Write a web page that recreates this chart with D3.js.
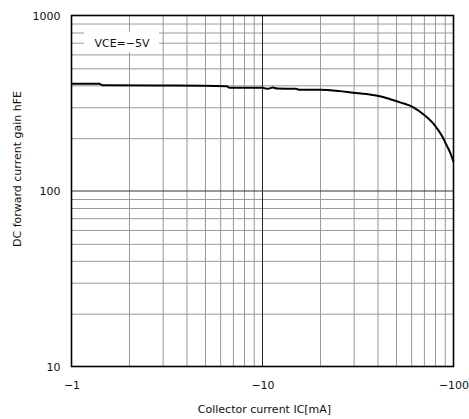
<!DOCTYPE html>
<html>
<head>
<meta charset="utf-8">
<script src="https://cdn.jsdelivr.net/npm/d3@7"></script>
<style>
  body { margin: 0; background: #fff; }
  svg text { font-family: "DejaVu Sans", sans-serif; fill: #111; }
</style>
</head>
<body>
<div class="canvas"></div>
<script>
// collector current IC [mA] (negative, PNP) and DC current gain hFE
const ic = [-1, -1.4, -1.45, -3.5, -6.5, -6.7, -10, -10.67, -11.3, -11.9, -15, -15.5, -20, -25, -30, -35, -40, -45, -52.5, -61.6, -70.9, -80, -86.8, -92.1, -95.9, -100];
const hfe = [408, 408, 400, 399, 395, 388, 387, 382, 389, 384, 382, 378, 377, 371, 363, 357, 349, 338, 320, 300, 269, 236, 207, 182, 166, 147];

const xMajor = [-1, -10, -100];
const yMajor = [10, 100, 1000];
const mults = [2, 3, 4, 5, 6, 7, 8, 9];
const xMinor = [-1, -10].flatMap(d => mults.map(m => d * m));
const yMinor = [10, 100].flatMap(d => mults.map(m => d * m));
const label = "VCE=\u22125V";

const W = 469, H = 419;
const margin = { top: 15.5, right: 15.5, bottom: 52.5, left: 71.5 };
const w = W - margin.left - margin.right;
const h = H - margin.top - margin.bottom;

const svg = d3.select(".canvas")
  .append("svg")
  .attr("width", W)
  .attr("height", H);

const g = svg.append("g")
  .attr("transform", `translate(${margin.left}, ${margin.top})`);

const x = d3.scaleLog().domain([-1, -100]).range([0, w]);
const y = d3.scaleLog().domain([10, 1000]).range([h, 0]);

// minor grid
g.append("g")
  .attr("transform", `translate(0, ${h})`)
  .call(d3.axisBottom(x).tickValues(xMinor).tickSize(-h).tickFormat(""))
  .call(a => a.select(".domain").remove())
  .selectAll("line").attr("stroke", "#999");

g.append("g")
  .call(d3.axisLeft(y).tickValues(yMinor).tickSize(-w).tickFormat(""))
  .call(a => a.select(".domain").remove())
  .selectAll("line").attr("stroke", "#999");

// inner major lines
g.append("line")
  .attr("x1", x(-10)).attr("x2", x(-10))
  .attr("y1", 0).attr("y2", h)
  .attr("stroke", "#222");
g.append("line")
  .attr("x1", 0).attr("x2", w)
  .attr("y1", y(100)).attr("y2", y(100))
  .attr("stroke", "#333");

// label box
const lx = 12.5, ly = 16.5;
g.append("rect")
  .attr("x", lx).attr("y", ly)
  .attr("width", 75).attr("height", 20)
  .attr("fill", "#fff");
g.append("text")
  .attr("x", lx + 38).attr("y", ly + 14.5)
  .attr("text-anchor", "middle")
  .attr("font-size", 11)
  .text(label);

// curve
const line = d3.line()
  .x((d, i) => x(ic[i]))
  .y(d => y(d))
  .curve(d3.curveMonotoneX);

g.append("path")
  .datum(hfe)
  .attr("fill", "none")
  .attr("stroke", "#000")
  .attr("stroke-width", 2)
  .attr("stroke-linejoin", "round")
  .attr("d", line);

// frame
g.append("rect")
  .attr("width", w).attr("height", h)
  .attr("fill", "none")
  .attr("stroke", "#000")
  .attr("stroke-width", 1.6);

// tick labels
g.append("g")
  .attr("transform", `translate(0, ${h})`)
  .call(d3.axisBottom(x).tickValues(xMajor).tickSize(0).tickPadding(15)
    .tickFormat(d => "\u2212" + Math.abs(d)))
  .call(a => a.select(".domain").remove())
  .selectAll("text")
  .attr("font-size", 11)
  .attr("font-family", null)
  .attr("fill", null);

g.append("g")
  .call(d3.axisLeft(y).tickValues(yMajor).tickSize(0).tickPadding(11)
    .tickFormat(d3.format("d")))
  .call(a => a.select(".domain").remove())
  .selectAll("text")
  .attr("font-size", 11)
  .attr("font-family", null)
  .attr("fill", null);

// axis titles
svg.append("text")
  .attr("x", margin.left + w / 2 + 2)
  .attr("y", 413)
  .attr("text-anchor", "middle")
  .attr("font-size", 11)
  .text("Collector current IC[mA]");

svg.append("text")
  .attr("transform", `translate(21, 169) rotate(-90)`)
  .attr("text-anchor", "middle")
  .attr("font-size", 11)
  .text("DC forward current gain hFE");
</script>
</body>
</html>
